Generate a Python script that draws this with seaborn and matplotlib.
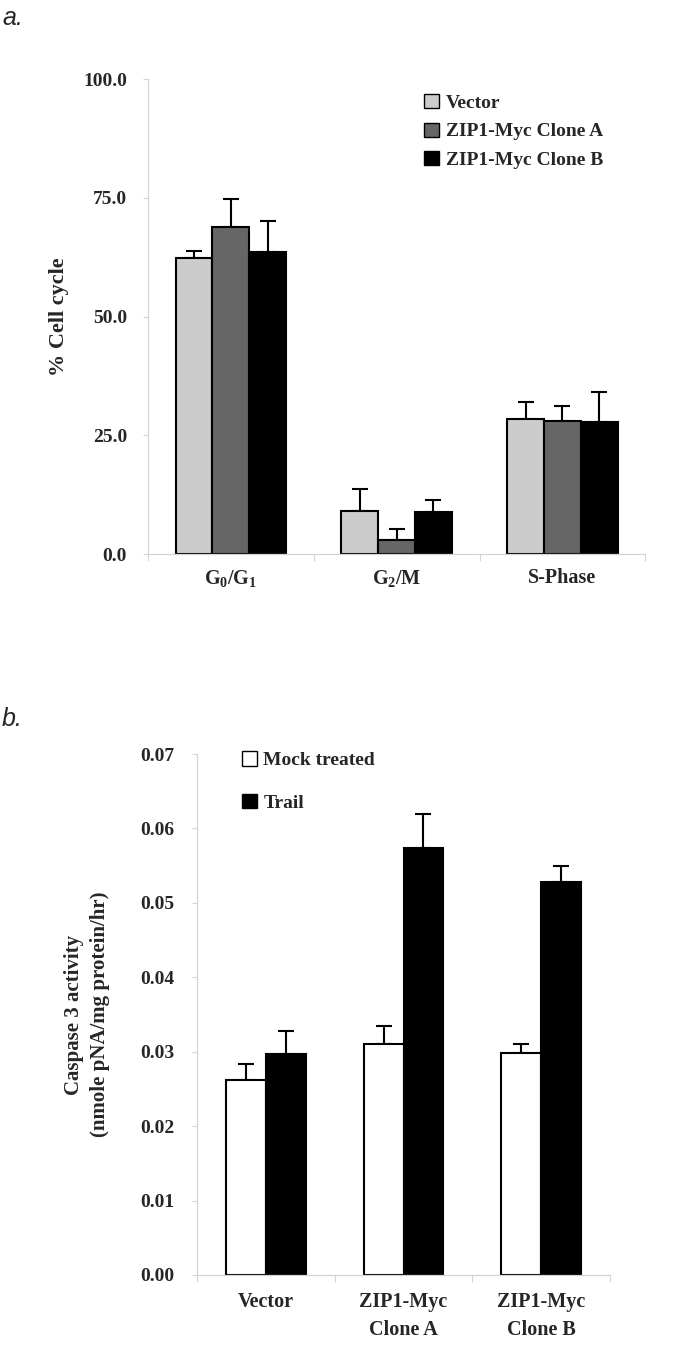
import numpy as np
import pandas as pd
import matplotlib
matplotlib.use("Agg")
import matplotlib.pyplot as plt
from matplotlib.patches import Patch
import seaborn as sns

# Panel a: cell cycle distribution
phases = [r"G$_0$/G$_1$", r"G$_2$/M", "S-Phase"]
lines_a = ["Vector", "ZIP1-Myc Clone A", "ZIP1-Myc Clone B"]
vector_pct = [62.3, 9.1, 28.5]
clone_a_pct = [68.8, 3.0, 28.1]
clone_b_pct = [63.6, 8.8, 27.8]
vector_err = [1.5, 4.6, 3.4]
clone_a_err = [6.0, 2.2, 3.1]
clone_b_err = [6.6, 2.5, 6.4]
colors_a = ["#cccccc", "#666666", "#000000"]

# Panel b: caspase 3 activity
lines_b = ["Vector", "ZIP1-Myc\nClone A", "ZIP1-Myc\nClone B"]
treatments = ["Mock treated", "Trail"]
mock_act = [0.0262, 0.0311, 0.0298]
trail_act = [0.0297, 0.0574, 0.0528]
mock_err = [0.0022, 0.0024, 0.0012]
trail_err = [0.0031, 0.0046, 0.0021]
colors_b = ["#ffffff", "#000000"]

sns.set_style("white")
plt.rcParams["font.family"] = ["Liberation Serif", "DejaVu Serif"]
plt.rcParams["font.weight"] = "bold"
plt.rcParams["mathtext.fontset"] = "custom"
plt.rcParams["mathtext.rm"] = "Liberation Serif:bold"
plt.rcParams["mathtext.it"] = "Liberation Serif:bold"
plt.rcParams["mathtext.bf"] = "Liberation Serif:bold"

df_a = pd.DataFrame({
    "phase": np.repeat(phases, 3),
    "line": lines_a * 3,
    "value": [v for trio in zip(vector_pct, clone_a_pct, clone_b_pct) for v in trio],
})
err_a = [vector_err, clone_a_err, clone_b_err]

df_b = pd.DataFrame({
    "line": np.repeat(lines_b, 2),
    "treat": treatments * 3,
    "value": [v for pair in zip(mock_act, trail_act) for v in pair],
})
err_b = [mock_err, trail_err]

fig = plt.figure(figsize=(6.85, 13.72), dpi=100)
ax_a = fig.add_axes([0.216, 0.5962, 0.726, 0.3462])
ax_b = fig.add_axes([0.2876, 0.0707, 0.603, 0.3797])


def style_axis(ax, ypad):
    for side in ["top", "right"]:
        ax.spines[side].set_visible(False)
    for side in ["left", "bottom"]:
        ax.spines[side].set_color("#d4d4d4")
        ax.spines[side].set_linewidth(0.9)
    ax.tick_params(axis="y", direction="out", length=3.6, width=0.8, color="#d4d4d4",
                   pad=ypad, labelsize=14, left=True)
    ax.tick_params(axis="x", which="major", length=0, labelsize=14.5)
    ax.set_xticks([-0.5, 0.5, 1.5, 2.5], minor=True)
    ax.tick_params(axis="x", which="minor", direction="out", length=5, width=0.8,
                   color="#d4d4d4", bottom=True)
    ax.set_xlim(-0.5, 2.5)
    ax.set_xlabel("")
    for lab in ax.get_yticklabels() + ax.get_xticklabels():
        lab.set_fontweight("bold")


def add_errors(ax, errs):
    for cont, err in zip(ax.containers, errs):
        xs = [p.get_x() + p.get_width() / 2 for p in cont.patches]
        ys = [p.get_height() for p in cont.patches]
        ax.errorbar(xs, ys, yerr=[np.zeros(len(err)), err], fmt="none",
                    ecolor="black", elinewidth=1.5, capsize=5.5, capthick=1.5, zorder=1)


# ---- panel a
sns.barplot(data=df_a, x="phase", y="value", hue="line", order=phases, hue_order=lines_a,
            palette=colors_a, width=0.665, errorbar=None, edgecolor="black",
            linewidth=1.5, ax=ax_a, zorder=2)
add_errors(ax_a, err_a)
ax_a.set_ylim(0, 100)
ax_a.set_yticks([0, 25, 50, 75, 100])
ax_a.set_yticklabels(["0.0", "25.0", "50.0", "75.0", "100.0"])
ax_a.set_ylabel("% Cell cycle", fontsize=16, fontweight="bold", labelpad=10)
style_axis(ax_a, 11.5)
ax_a.tick_params(axis="x", pad=10)
handles_a = [Patch(facecolor=c, edgecolor="black", linewidth=1.0) for c in colors_a]
ax_a.legend(handles_a, lines_a, loc="upper left", bbox_to_anchor=(0.54, 0.985),
            frameon=False, fontsize=14, handlelength=0.75, handleheight=0.75,
            handletextpad=0.35, labelspacing=0.55, borderaxespad=0)

# ---- panel b
sns.barplot(data=df_b, x="line", y="value", hue="treat", order=lines_b, hue_order=treatments,
            palette=colors_b, width=0.58, errorbar=None, edgecolor="black",
            linewidth=1.5, ax=ax_b, zorder=2)
add_errors(ax_b, err_b)
ax_b.set_ylim(0, 0.07)
ax_b.set_yticks(np.arange(0, 0.0701, 0.01))
ax_b.set_yticklabels([f"{t:.2f}" for t in np.arange(0, 0.0701, 0.01)])
ax_b.set_ylabel("Caspase 3 activity\n(nmole pNA/mg protein/hr)", fontsize=15,
                fontweight="bold", labelpad=22, linespacing=1.4)
style_axis(ax_b, 12.5)
ax_b.tick_params(axis="x", pad=12)
for lab in ax_b.get_xticklabels():
    lab.set_linespacing(1.55)
handles_b = [Patch(facecolor=c, edgecolor="black", linewidth=1.0) for c in colors_b]
ax_b.legend(handles_b, treatments, loc="upper left", bbox_to_anchor=(0.09, 1.02),
            frameon=False, fontsize=14, handlelength=0.75, handleheight=0.75,
            handletextpad=0.35, labelspacing=1.25, borderaxespad=0)

fig.text(0.003, 0.987, "a.", fontsize=18, style="italic", fontweight="normal",
         family=["Liberation Sans", "DejaVu Sans"], va="center")
fig.text(0.003, 0.476, "b.", fontsize=18, style="italic", fontweight="normal",
         family=["Liberation Sans", "DejaVu Sans"], va="center")

fig.savefig("out.png", dpi=100, facecolor="white")
